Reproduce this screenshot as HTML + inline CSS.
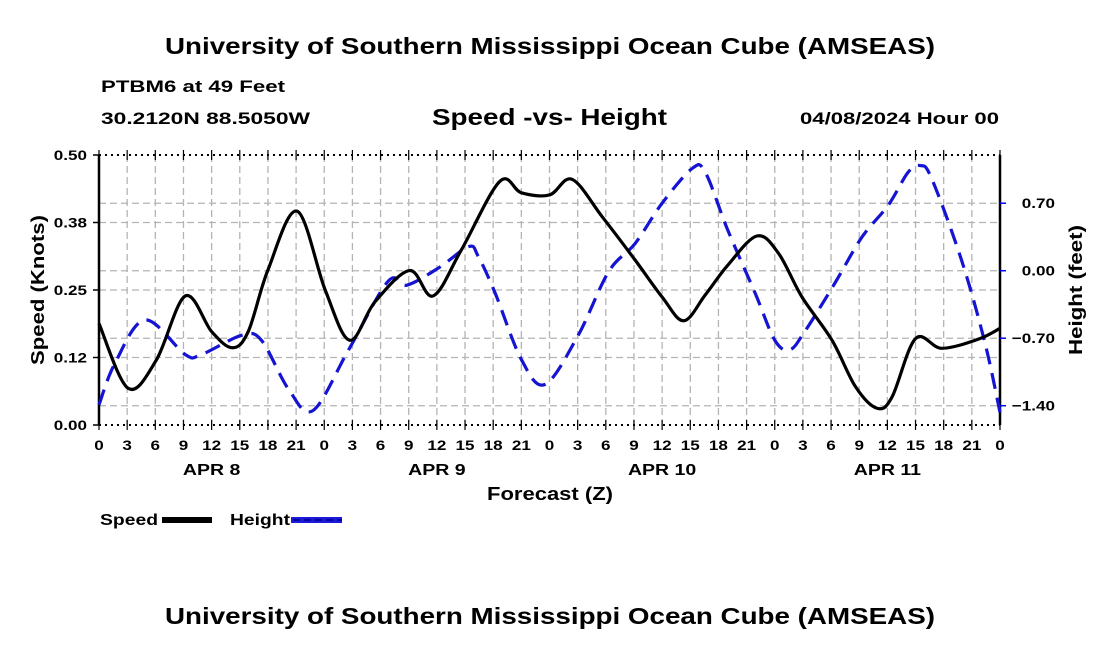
<!DOCTYPE html>
<html><head><meta charset="utf-8">
<style>
body{margin:0;background:#fff;}
svg{display:block;font-family:"Liberation Sans",Arial,sans-serif;font-weight:bold;}
</style></head>
<body>
<svg id="chart" width="1100" height="650" viewBox="0 0 1100 650" xmlns="http://www.w3.org/2000/svg">
<text x="165" y="54" font-size="23" textLength="770" lengthAdjust="spacingAndGlyphs">University of Southern Mississippi Ocean Cube (AMSEAS)</text>
<text x="101" y="92" font-size="17" textLength="184" lengthAdjust="spacingAndGlyphs">PTBM6 at 49 Feet</text>
<text x="101" y="124" font-size="17" textLength="209" lengthAdjust="spacingAndGlyphs">30.2120N  88.5050W</text>
<text x="432" y="125" font-size="23" textLength="235" lengthAdjust="spacingAndGlyphs">Speed -vs- Height</text>
<text x="800" y="124" font-size="17" textLength="199" lengthAdjust="spacingAndGlyphs">04/08/2024 Hour 00</text>
<g id="grid"></g>
<g id="axes"></g>
<g id="series"></g>
<text x="487" y="500" font-size="18" textLength="126" lengthAdjust="spacingAndGlyphs">Forecast (Z)</text>
<text transform="translate(44,365) rotate(-90)" font-size="18" textLength="150" lengthAdjust="spacingAndGlyphs">Speed (Knots)</text>
<text transform="translate(1082,355) rotate(-90)" font-size="18" textLength="130" lengthAdjust="spacingAndGlyphs">Height (feet)</text>
<g>
<text x="100" y="525" font-size="16" textLength="58" lengthAdjust="spacingAndGlyphs">Speed</text>
<rect x="162" y="517" width="50" height="6" fill="#000"/>
</g>
<g>
<text x="230" y="525" font-size="16" textLength="60" lengthAdjust="spacingAndGlyphs">Height</text>
<rect x="291" y="517" width="51" height="6" fill="#1a1ad8"/>
<line x1="293" y1="520" x2="342" y2="520" stroke="#00008a" stroke-width="1.5" stroke-dasharray="7,4"/>
</g>
<text x="165" y="624" font-size="23" textLength="770" lengthAdjust="spacingAndGlyphs">University of Southern Mississippi Ocean Cube (AMSEAS)</text>
</svg>
<script>
const speedHours=[0,3.1,6.1,9.2,12,14.2,15.9,18,21.1,24.1,26.7,29.4,33.1,35.6,38.6,42.7,45,48,50.4,53.6,57.1,60,62.3,64.6,67,70.1,72.4,74.9,78.1,80.6,82.9,84.5,87,89.8,93.7,96];
const speedValues=[0.188,0.068,0.12,0.239,0.173,0.143,0.173,0.287,0.396,0.25,0.157,0.228,0.286,0.239,0.324,0.451,0.43,0.426,0.455,0.386,0.306,0.237,0.193,0.241,0.296,0.35,0.318,0.237,0.157,0.071,0.031,0.052,0.16,0.142,0.159,0.179];
const heightHours=[0,1.7,4.9,9.2,10.9,15.2,17.3,20.2,22.8,26.6,30.8,32.8,36.2,39.4,40.4,42.2,45,47.5,51,54.3,57.1,60,63.2,64.6,67,69.9,72,73.6,75.2,78.4,81.3,84.1,86.2,87.5,88.7,91.9,94.4,96];
const heightValues=[-1.39,-0.96,-0.51,-0.87,-0.87,-0.67,-0.72,-1.23,-1.45,-0.82,-0.11,-0.15,0.03,0.25,0.15,-0.23,-0.92,-1.18,-0.68,-0.01,0.28,0.7,1.06,1.02,0.42,-0.23,-0.72,-0.82,-0.63,-0.13,0.35,0.68,1.02,1.09,0.96,0.11,-0.75,-1.47];
const speedTicks=[0,0.125,0.25,0.375,0.5];
const speedTickLabels=["0.00","0.12","0.25","0.38","0.50"];
const heightTicks=[-1.4,-0.7,0,0.7];
const heightTickLabels=["\u22121.40","\u22120.70","0.00","0.70"];
const hourLabels=["0","3","6","9","12","15","18","21"];
const dayLabels=["APR 8","APR 9","APR 10","APR 11"];

const X0=99,X1=1000,Y0=155,Y1=425;
const xs=h=>X0+(X1-X0)*h/96;
const ys=v=>Y1-(Y1-Y0)*v/0.5;
const yh=v=>Y1-(Y1-Y0)*(v+1.6)/2.8;
const NS="http://www.w3.org/2000/svg";
function mk(tag,attrs,parent){const e=document.createElementNS(NS,tag);for(const k in attrs)e.setAttribute(k,attrs[k]);parent.appendChild(e);return e;}
function wide(t,x,y){t.setAttribute('transform','translate('+x+','+y+') scale(1.22,1) translate('+(-x)+','+(-y)+')');}
const grid=document.getElementById('grid'),axes=document.getElementById('axes'),ser=document.getElementById('series');
for(let h=3;h<96;h+=3){const l=mk('line',{x1:xs(h),x2:xs(h),y1:Y0,y2:Y1,stroke:'#b4b4b4','stroke-width':1.3,'stroke-dasharray':'7,4'},grid);

}
speedTicks.slice(1,4).forEach(v=>{const l=mk('line',{x1:X0,x2:X1,y1:ys(v),y2:ys(v),stroke:'#b4b4b4','stroke-width':1.3,'stroke-dasharray':'7,4'},grid);

});
heightTicks.forEach(v=>{const l=mk('line',{x1:X0,x2:X1,y1:yh(v),y2:yh(v),stroke:'#b4b4b4','stroke-width':1.3,'stroke-dasharray':'7,4'},grid);

});
mk('line',{x1:X0,x2:X1,y1:Y0,y2:Y0,stroke:'#000','stroke-width':2,'stroke-dasharray':'2,4'},axes);
mk('line',{x1:X0,x2:X1,y1:Y1,y2:Y1,stroke:'#000','stroke-width':2,'stroke-dasharray':'2,4'},axes);
mk('line',{x1:X0,x2:X0,y1:Y0,y2:Y1,stroke:'#000','stroke-width':2.5},axes);
mk('line',{x1:X1,x2:X1,y1:Y0,y2:Y1,stroke:'#000','stroke-width':2.5},axes);
speedTicks.forEach((v,i)=>{mk('line',{x1:X0-6,x2:X0,y1:ys(v),y2:ys(v),stroke:'#000','stroke-width':1.5},axes);
const t=mk('text',{x:X0-12,y:ys(v)+5,'text-anchor':'end','font-size':14},axes);t.textContent=speedTickLabels[i];wide(t,X0-12,ys(v)+5);

});
heightTicks.forEach((v,i)=>{mk('line',{x1:X1,x2:X1+6,y1:yh(v),y2:yh(v),stroke:'#00f','stroke-width':1.5},axes);
const t=mk('text',{x:1055,y:yh(v)+5,'text-anchor':'end','font-size':14},axes);t.textContent=heightTickLabels[i];wide(t,1055,yh(v)+5);

});
for(let h=0;h<=96;h+=3){mk('line',{x1:xs(h),x2:xs(h),y1:Y1-5,y2:Y1+5,stroke:'#000','stroke-width':1.2},axes);
mk('line',{x1:xs(h),x2:xs(h),y1:Y0-5,y2:Y0+5,stroke:'#000','stroke-width':1.2},axes);
const t=mk('text',{x:xs(h),y:450,'text-anchor':'middle','font-size':14},axes);t.textContent=hourLabels[(h/3)%8];wide(t,xs(h),450);

}
dayLabels.forEach((d,i)=>{const t=mk('text',{x:xs(24*i+12),y:475,'text-anchor':'middle','font-size':16},axes);t.textContent=d;wide(t,xs(24*i+12),475);

});
function pathFrom(hs,vs,yf){const p=hs.map((h,i)=>[xs(h),yf(vs[i])]);let d='M'+p[0][0]+','+p[0][1];
for(let i=0;i<p.length-1;i++){const a=p[Math.max(0,i-1)],b=p[i],c=p[i+1],e=p[Math.min(p.length-1,i+2)];
const c1=[b[0]+(c[0]-a[0])/6,b[1]+(c[1]-a[1])/6],c2=[c[0]-(e[0]-b[0])/6,c[1]-(e[1]-b[1])/6];
d+=' C'+c1[0]+','+c1[1]+' '+c2[0]+','+c2[1]+' '+c[0]+','+c[1];}return d;}
const hp=mk('path',{d:pathFrom(heightHours,heightValues,yh),fill:'none',stroke:'#1414d2','stroke-width':3.2,'stroke-dasharray':'16,9'},ser);


const sp=mk('path',{d:pathFrom(speedHours,speedValues,ys),fill:'none',stroke:'#000','stroke-width':3.2},ser);


</script>
</body></html>
